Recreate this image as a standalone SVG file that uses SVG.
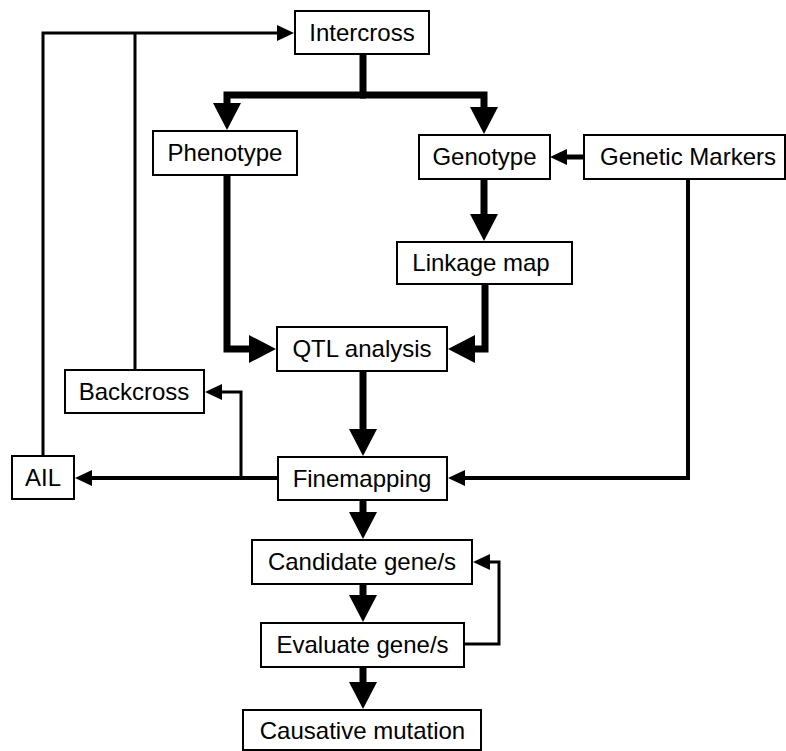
<svg xmlns="http://www.w3.org/2000/svg" width="786" height="751" viewBox="0 0 786 751">
  <style>
    .box rect { fill: #fff; stroke: #000; stroke-width: 2; }
    .box text { font-family: "Liberation Sans", Arial, sans-serif; font-size: 24px; fill: #000; text-anchor: middle; }
    .thick { fill: none; stroke: #000; stroke-width: 7; stroke-linejoin: miter; stroke-linecap: butt; }
    .mid { fill: none; stroke: #000; stroke-width: 4; stroke-linejoin: miter; stroke-linecap: butt; }
    .thin { fill: none; stroke: #000; stroke-width: 3; stroke-linejoin: miter; stroke-linecap: butt; }
  </style>
  <defs>
    <!-- filled triangle heads, sized in user units so line width does not scale them -->
    <marker id="bigHead" markerUnits="userSpaceOnUse" markerWidth="27" markerHeight="28" viewBox="0 0 27 28" refX="1" refY="14" orient="auto">
      <path d="M0,0 L27,14 L0,28 z" fill="#000"/>
    </marker>
    <marker id="smallHead" markerUnits="userSpaceOnUse" markerWidth="17" markerHeight="16" viewBox="0 0 17 16" refX="1" refY="8" orient="auto">
      <path d="M0,0 L17,8 L0,16 z" fill="#000"/>
    </marker>
  </defs>
  <rect width="786" height="751" fill="#fff"/>

  <g id="connectors">
    <!-- thick main flow -->
    <path class="thick" d="M363,54 V95"/>
    <path class="thick" d="M366,95 H227 V104" marker-end="url(#bigHead)"/>
    <path class="thick" d="M360,95 H484 V108" marker-end="url(#bigHead)"/>
    <path class="thick" d="M227,175 V349 H250" marker-end="url(#bigHead)"/>
    <path class="thick" d="M484,179 V215" marker-end="url(#bigHead)"/>
    <path class="thick" d="M485,284 V349 H474" marker-end="url(#bigHead)"/>
    <path class="thick" d="M363,371 V430" marker-end="url(#bigHead)"/>
    <path class="thick" d="M363,500 V513" marker-end="url(#bigHead)"/>
    <path class="thick" d="M363,584 V596" marker-end="url(#bigHead)"/>
    <path class="thick" d="M363,667 V683" marker-end="url(#bigHead)"/>
    <!-- lighter side links -->
    <path class="mid" style="stroke-width:5" d="M584,157 H566" marker-end="url(#smallHead)"/>
    <path class="mid" d="M688,179 V478 H464" marker-end="url(#smallHead)"/>
    <path class="mid" d="M278,478 H91" marker-end="url(#smallHead)"/>
    <path class="thin" d="M241,478 V392 H221" marker-end="url(#smallHead)"/>
    <path class="thin" d="M43,456 V33 H278" marker-end="url(#smallHead)"/>
    <path class="thin" d="M135,370 V33"/>
    <path class="thin" d="M464,644 H499 V562 H489" marker-end="url(#smallHead)"/>
  </g>

  <g id="intercross" class="box"><rect x="295" y="11" width="134" height="43"/><text x="362" y="41">Intercross</text></g>
  <g id="phenotype" class="box"><rect x="153" y="131" width="144" height="44"/><text x="225" y="161">Phenotype</text></g>
  <g id="genotype" class="box"><rect x="419" y="135" width="131" height="44"/><text x="484.5" y="165">Genotype</text></g>
  <g id="genetic-markers" class="box"><rect x="584" y="135" width="201" height="44"/><text x="688" y="165">Genetic Markers</text></g>
  <g id="linkage-map" class="box"><rect x="397" y="242" width="175" height="42"/><text x="481" y="271">Linkage map</text></g>
  <g id="qtl-analysis" class="box"><rect x="277" y="327" width="170" height="44"/><text x="362" y="357">QTL analysis</text></g>
  <g id="backcross" class="box"><rect x="65" y="370" width="139" height="43"/><text x="134" y="400">Backcross</text></g>
  <g id="ail" class="box"><rect x="12" y="456" width="62" height="43"/><text x="43" y="486">AIL</text></g>
  <g id="finemapping" class="box"><rect x="278" y="457" width="169" height="43"/><text x="362" y="487">Finemapping</text></g>
  <g id="candidate-genes" class="box"><rect x="252" y="540" width="220" height="44"/><text x="362" y="570">Candidate gene/s</text></g>
  <g id="evaluate-genes" class="box"><rect x="261" y="623" width="203" height="44"/><text x="362.5" y="653">Evaluate gene/s</text></g>
  <g id="causative-mutation" class="box"><rect x="243" y="710" width="238" height="40"/><text x="362.5" y="739">Causative mutation</text></g>
</svg>
